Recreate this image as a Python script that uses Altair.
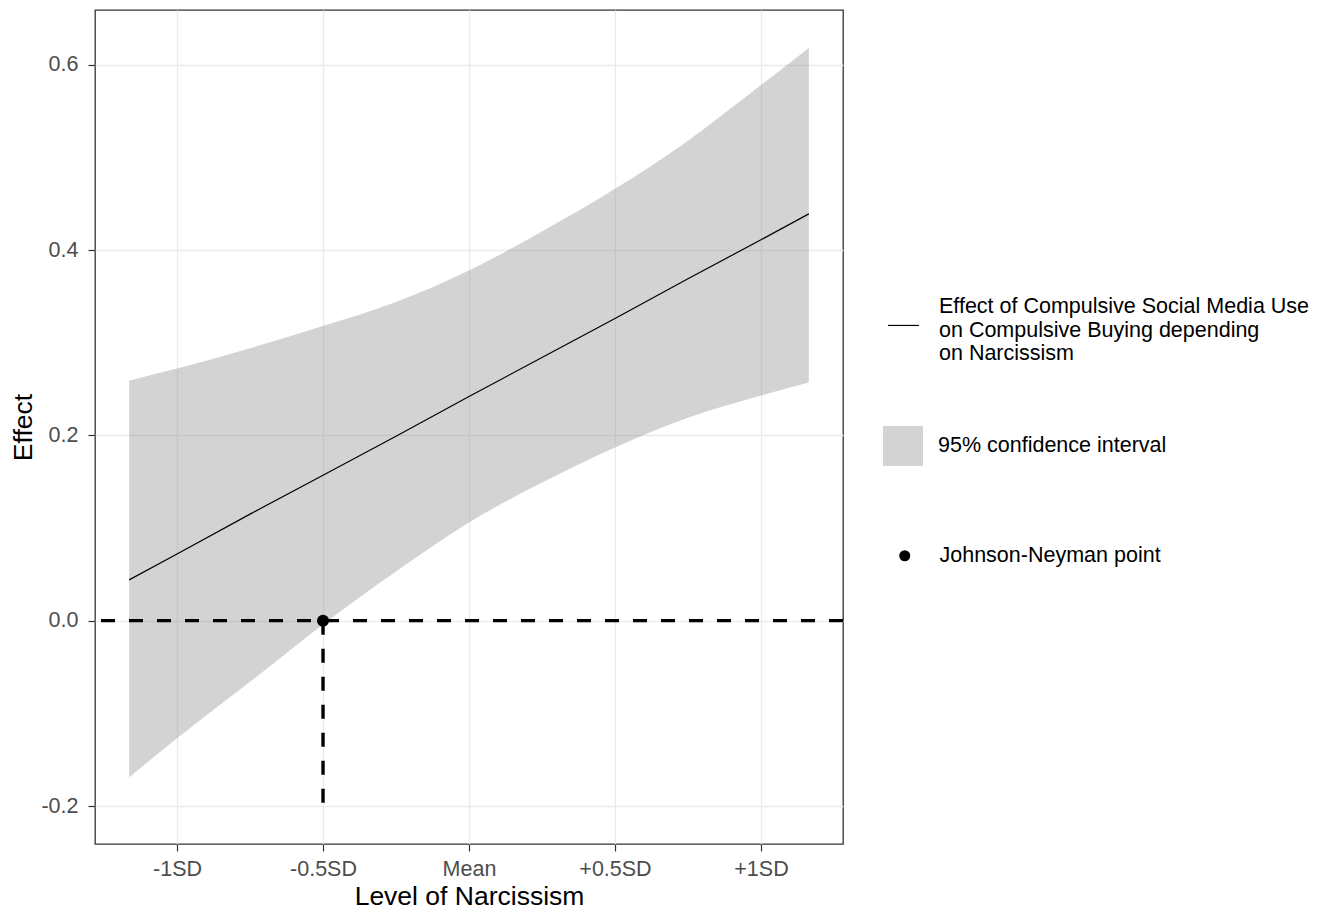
import altair as alt
import pandas as pd

# ---- data ----
narc_sd = [-1.164, -1.0, -0.75, -0.5, -0.25, 0.0, 0.25, 0.5, 0.75, 1.0, 1.164]
effect = [0.044, 0.072, 0.115, 0.157, 0.199, 0.242, 0.284, 0.326, 0.369, 0.411, 0.439]
ci_lower = [-0.169, -0.127, -0.066, -0.004, 0.053, 0.106, 0.149, 0.187, 0.219, 0.243, 0.257]
ci_upper = [0.259, 0.272, 0.294, 0.318, 0.344, 0.378, 0.420, 0.466, 0.518, 0.578, 0.618]

tick_values = [-1.0, -0.5, 0.0, 0.5, 1.0]
tick_labels = ["-1SD", "-0.5SD", "Mean", "+0.5SD", "+1SD"]
y_ticks = [-0.2, 0.0, 0.2, 0.4, 0.6]

jn_x = [-0.5]
jn_y = [0.0]
ref_y = [0.0]
seg_bottom = [-0.2]

line_label = "Effect of Compulsive Social Media Use\non Compulsive Buying depending\non Narcissism"
ci_label = "95% confidence interval"
jn_label = "Johnson-Neyman point"

x_domain = [-1.281, 1.281]
y_domain = [-0.241, 0.659]

FONT = "Liberation Sans"

df = pd.DataFrame({
    "x": narc_sd, "effect": effect, "lo": ci_lower, "hi": ci_upper,
    "series": line_label, "ci": ci_label,
})
df_ref = pd.DataFrame({"y": ref_y})
df_jn = pd.DataFrame({"x": jn_x, "y": jn_y, "y2": seg_bottom, "jn": jn_label})

x_label_expr = "".join(
    f"abs(datum.value - ({v})) < 1e-6 ? '{t}' : " for v, t in zip(tick_values, tick_labels)
) + "''"
y_label_expr = "(datum.value < -1e-9 ? '-' : '') + format(abs(datum.value), '.1f')"

x_scale = alt.Scale(domain=x_domain, nice=False, zero=False)
y_scale = alt.Scale(domain=y_domain, nice=False, zero=False)
x_axis = alt.Axis(values=tick_values, labelExpr=x_label_expr, title="Level of Narcissism",
                  labelPadding=7, titlePadding=4)
y_axis = alt.Axis(values=y_ticks, labelExpr=y_label_expr, title="Effect",
                  labelPadding=10, titlePadding=3)

def X(field):
    return alt.X(field, scale=x_scale, axis=x_axis, title="Level of Narcissism")

def Y(field):
    return alt.Y(field, scale=y_scale, axis=y_axis, title="Effect")

leg_common = dict(orient="none", title=None, padding=0, labelFont=FONT, labelFontSize=21.5,
                  labelColor="black", labelLimit=600)

band = alt.Chart(df).mark_area(opacity=0.34, interpolate="monotone").encode(
    x=X("x:Q"), y=Y("lo:Q"), y2="hi:Q",
    fill=alt.Fill("ci:N", scale=alt.Scale(range=["#7F7F7F"]),
                  legend=alt.Legend(symbolType="square", symbolSize=1600, symbolStrokeWidth=0,
                                    symbolOpacity=0.34, labelOffset=15,
                                    legendX=788, legendY=416, **leg_common)),
)

line = alt.Chart(df).mark_line(strokeWidth=1.2).encode(
    x=X("x:Q"), y=Y("effect:Q"),
    stroke=alt.Stroke("series:N", scale=alt.Scale(range=["black"]),
                      legend=alt.Legend(symbolType="M-1,1.19L1,1.19", symbolSize=961,
                                        symbolStrokeWidth=1.2,
                                        labelOffset=19, labelExpr="split(datum.label, '\\n')",
                                        legendX=792, legendY=280.5, **leg_common)),
)

hline = alt.Chart(df_ref).mark_rule(color="black", strokeWidth=3.4, strokeDash=[14, 14]).encode(
    y=Y("y:Q"),
)

vline = alt.Chart(df_jn).mark_rule(color="black", strokeWidth=3.4, strokeDash=[14, 14]).encode(
    x=X("x:Q"), y=Y("y:Q"), y2="y2:Q",
)

point = alt.Chart(df_jn).mark_point(filled=True, size=144, color="black", opacity=1).encode(
    x=X("x:Q"), y=Y("y:Q"),
    shape=alt.Shape("jn:N", scale=alt.Scale(range=["circle"]),
                    legend=alt.Legend(symbolSize=121, symbolFillColor="black", symbolStrokeWidth=0,
                                      labelOffset=24, legendX=799, legendY=535, **leg_common)),
)

chart = alt.layer(band, line, hline, vline, point).properties(
    width=748, height=834,
    padding={"left": 2, "top": 2, "right": 5, "bottom": 0},
    background="white",
).configure_view(
    stroke="#333333", strokeWidth=1.3, fill="white",
).configure_axis(
    grid=True, gridColor="#EBEBEB", gridWidth=1.3, domain=False,
    tickColor="#333333", tickSize=7, tickWidth=1.2,
    labelFont=FONT, labelFontSize=21.5, labelColor="#4D4D4D",
    titleFont=FONT, titleFontSize=26.5, titleFontWeight="normal", titleColor="black",
)

chart.save("out.html", embed_options={"renderer": "svg", "actions": False})
